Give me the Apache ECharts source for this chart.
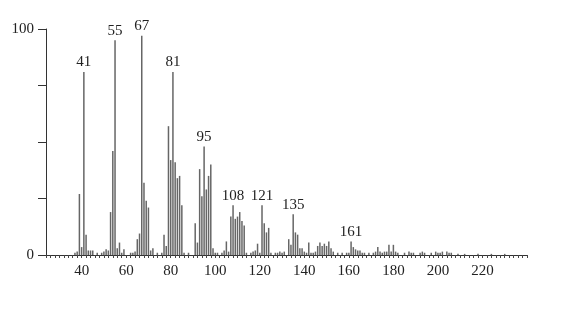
<!DOCTYPE html>
<html>
<head>
<meta charset="utf-8">
<script src="https://cdn.jsdelivr.net/npm/echarts@6/dist/echarts.min.js"></script>
<style>
html,body{margin:0;padding:0;background:#fff;}
#c{width:576px;height:319px;}
</style>
</head>
<body>
<div id="c"></div>
<script>
const masses = [37,38,39,40,41,42,43,44,45,47,49,50,51,52,53,54,55,56,57,58,59,62,63,64,65,66,67,68,69,70,71,72,74,76,77,78,79,80,81,82,83,84,85,86,88,
  91,92,93,94,95,96,97,98,99,100,101,103,104,105,106,107,108,109,110,111,112,113,114,116,117,118,119,120,121,122,123,124,125,127,128,129,130,131,
  133,134,135,136,137,138,139,140,141,142,143,144,145,146,147,148,149,150,151,152,153,155,157,159,160,161,162,163,164,165,166,167,169,171,172,173,
  174,175,176,177,178,179,180,181,182,185,187,188,189,192,193,194,197,199,200,201,202,204,205,206,209,212,218,224,230];
const intensities = [1,1.5,27,3.5,81,9,2,2,2,1,1,1.5,2.5,2,19,46,95,3,5.5,1,2.5,1,1,1.5,7,9.5,97,32,24,21,2,3,1,1,9,4,57,42,81,41,34,35,22,1,1,
  14,5.5,38,26,48,29,35,40,3,1,1,1,2,6,1.5,17,22,16,17,19,15,13,1,1,1.5,2,5,1,22,14,10,12,1,1,1,1.5,1,1.5,
  7,4.5,18,10,9,3,3,1.5,1,5.5,1,1,1.5,4,5.5,4,5,4,6,3,1.5,1,1,1,1,6,3.5,2.5,2,2,1,1,1,1,1.5,3.5,
  1.5,1,1.5,1.5,4.5,1.5,4.5,1.5,1,1,1.5,1,1,1,1.5,1,1,1.5,1,1,1.5,1.5,1,1,0.5,0.5,0.5,0.5,0.5];
const labeledPeaks = [41,55,67,81,95,108,121,135,161];
const xTickLabels = [40,60,80,100,120,140,160,180,200,220];
const yTickLabels = [0,100];

const font = 'Liberation Serif';
const chart = echarts.init(document.getElementById('c'));
chart.setOption({
  animation:false,
  backgroundColor:'#fff',
  grid:{left:46,right:49,top:29,bottom:64,containLabel:false},
  xAxis:{
    type:'value',min:24,max:240,interval:2,
    axisLine:{show:true,lineStyle:{color:'#333',width:1}},
    axisTick:{show:true,length:3,lineStyle:{color:'#444',width:1}},
    splitLine:{show:false},
    axisLabel:{margin:9,fontFamily:font,fontSize:15,color:'#222',
      formatter:v=>xTickLabels.includes(v)?String(v):''}
  },
  yAxis:{
    type:'value',min:0,max:100,interval:25,
    axisLine:{show:true,lineStyle:{color:'#333',width:1}},
    axisTick:{show:true,length:8,lineStyle:{color:'#333',width:1}},
    splitLine:{show:false},
    axisLabel:{margin:12,fontFamily:font,fontSize:15,color:'#222',
      formatter:v=>yTickLabels.includes(v)?String(v):''}
  },
  series:[{
    type:'bar',
    barWidth:1.5,
    itemStyle:{color:'#666'},
    label:{show:false},
    data:masses.map((m,i)=>({
      value:[m,intensities[i]],
      label:{show:labeledPeaks.includes(m),position:'top',distance:2,
        fontFamily:font,fontSize:15,color:'#222',formatter:p=>String(p.value[0])}
    }))
  }]
});
</script>
</body>
</html>
